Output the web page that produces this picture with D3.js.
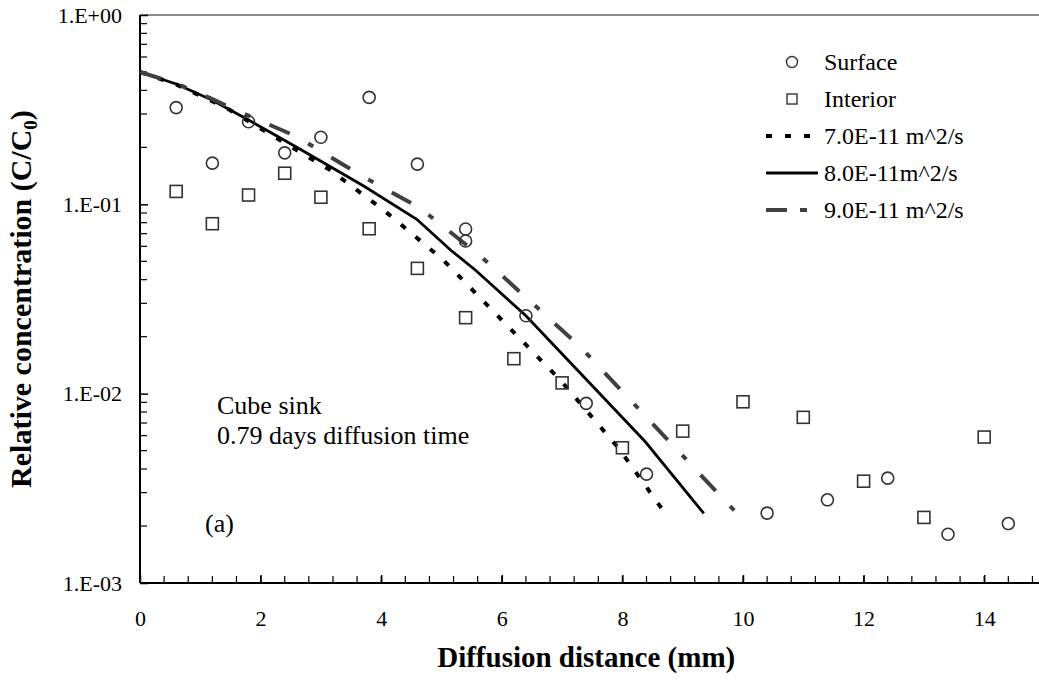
<!DOCTYPE html>
<html>
<head>
<meta charset="utf-8">
<script src="https://cdn.jsdelivr.net/npm/d3@7/dist/d3.min.js"></script>
<style>
body { margin: 0; background: #fff; }
svg { display: block; font-family: "Liberation Serif", "Times New Roman", serif; }
</style>
</head>
<body>
<svg width="1039" height="683"></svg>
<script>
var surfaceX = [0.6, 1.2, 1.8, 2.4, 3.0, 3.8, 4.6, 5.4, 5.4, 6.4, 7.4, 8.4, 10.4, 11.4, 12.4, 13.4, 14.4];
var surfaceY = [0.324, 0.165, 0.273, 0.187, 0.226, 0.367, 0.163, 0.0741, 0.064, 0.0258, 0.00889, 0.00376, 0.00234, 0.00275, 0.00358, 0.00181, 0.00206];

var interiorX = [0.6, 1.2, 1.8, 2.4, 3.0, 3.8, 4.6, 5.4, 6.2, 7.0, 8.0, 9.0, 10.0, 11.0, 12.0, 13.0, 14.0];
var interiorY = [0.117, 0.079, 0.112, 0.146, 0.109, 0.0743, 0.0459, 0.0252, 0.0153, 0.0114, 0.00518, 0.00634, 0.00906, 0.0075, 0.00345, 0.00222, 0.0059];

// model curves
var d7X = [0, 0.6, 1.2, 1.49, 2.27, 3.15, 4.04, 5.03, 6.97, 7.94, 8.71];
var d7Y = [0.5, 0.43, 0.35, 0.315, 0.223, 0.152, 0.0933, 0.0508, 0.0118, 0.00514, 0.00233];

var d8X = [0, 0.6, 1.2, 1.8, 2.6, 3.71, 4.59, 5.15, 5.56, 6.4, 8.38, 9.35];
var d8Y = [0.5, 0.432, 0.355, 0.279, 0.2, 0.125, 0.0834, 0.0574, 0.045, 0.0258, 0.00557, 0.00233];

var d9X = [0, 0.6, 1.2, 1.55, 2.6, 3.65, 4.65, 5.67, 7.3, 9.9];
var d9Y = [0.5, 0.435, 0.36, 0.318, 0.228, 0.143, 0.0953, 0.0525, 0.0177, 0.00233];

var xTicks = [0, 2, 4, 6, 8, 10, 12, 14];
var yTicks = [1, 0.1, 0.01, 0.001];
var yTickLabels = ["1.E+00", "1.E-01", "1.E-02", "1.E-03"];

var legendNames = ["Surface", "Interior", "7.0E-11 m^2/s", "8.0E-11m^2/s", "9.0E-11 m^2/s"];

var padLeft = 140, padTop = 15, padBottom = 583;

var svg = d3.select("svg");

var x = d3.scaleLinear().domain([0, 15]).range([padLeft, padLeft + 15 * 60.3]);
var y = d3.scaleLog().domain([0.001, 1]).range([padBottom, padTop]);

// top border
svg.append("line")
	.attr("x1", padLeft).attr("x2", 1039)
	.attr("y1", padTop).attr("y2", padTop)
	.attr("stroke", "#8c8c8c").attr("stroke-width", 2);

// minor ticks
var xMinor = d3.range(0, 15.01, 0.4);
svg.selectAll("line.xminor")
	.data(xMinor)
	.enter().append("line").classed("xminor", true)
	.attr("x1", d => x(d)).attr("x2", d => x(d))
	.attr("y1", padBottom).attr("y2", padBottom - 7)
	.attr("stroke", "#000").attr("stroke-width", 1.2);

var yMinor = [];
[0.001, 0.01, 0.1].forEach(function(dec){
	for (var k = 2; k <= 9; k++) yMinor.push(dec * k);
});
svg.selectAll("line.yminor")
	.data(yMinor)
	.enter().append("line").classed("yminor", true)
	.attr("x1", padLeft).attr("x2", padLeft + 7)
	.attr("y1", d => y(d)).attr("y2", d => y(d))
	.attr("stroke", "#000").attr("stroke-width", 1.2);

// axes
var xAxis = d3.axisBottom(x).tickValues(xTicks).tickSize(-8).tickPadding(27).tickFormat(d3.format("d"));
var gx = svg.append("g").attr("transform", "translate(0," + padBottom + ")").call(xAxis);
gx.select(".domain").attr("d", "M" + padLeft + ",0H1039").attr("stroke-width", 2);
gx.selectAll(".tick line").attr("stroke-width", 1.5);
gx.selectAll("text").attr("font-size", 22).attr("font-family", "Liberation Serif").attr("fill", "#000");

var yAxis = d3.axisLeft(y).tickValues(yTicks).tickSize(-8).tickPadding(18).tickFormat((d, i) => yTickLabels[i]);
var gy = svg.append("g").attr("transform", "translate(" + padLeft + ",0)").call(yAxis);
gy.select(".domain").attr("d", "M0," + padTop + "V" + padBottom).attr("stroke-width", 2);
gy.selectAll(".tick line").attr("stroke-width", 1.5);
gy.selectAll("text").attr("font-size", 22).attr("font-family", "Liberation Serif").attr("fill", "#000");

// axis titles
svg.append("text")
	.attr("x", x(7.4)).attr("y", 667)
	.attr("text-anchor", "middle")
	.attr("font-size", 29).attr("font-weight", "bold")
	.text("Diffusion distance (mm)");

var yt = svg.append("text")
	.attr("transform", "translate(31," + ((padTop + padBottom) / 2) + ") rotate(-90)")
	.attr("text-anchor", "middle")
	.attr("font-size", 30).attr("font-weight", "bold");
yt.append("tspan").text("Relative concentration (C/C");
yt.append("tspan").attr("font-size", 19).attr("dy", 6).text("0");
yt.append("tspan").attr("dy", -6).text(")");

// curves
var line = d3.line().x(d => x(d[0])).y(d => y(d[1]));
var curves = [
	{xs: d7X, ys: d7Y, color: "#000", width: 4, dash: "6,13", legDash: "6,13"},
	{xs: d8X, ys: d8Y, color: "#000", width: 2.8, dash: null, legDash: null},
	{xs: d9X, ys: d9Y, color: "#404040", width: 4, dash: "22,21,6,21", legDash: "21,13,7,13"}
];
svg.selectAll("path.curve")
	.data(curves)
	.enter().append("path").classed("curve", true)
	.attr("d", c => line(d3.zip(c.xs, c.ys)))
	.attr("fill", "none")
	.attr("stroke", c => c.color)
	.attr("stroke-width", c => c.width)
	.attr("stroke-dasharray", c => c.dash);

// markers
svg.selectAll("circle.surface")
	.data(d3.zip(surfaceX, surfaceY))
	.enter().append("circle").classed("surface", true)
	.attr("cx", d => x(d[0])).attr("cy", d => y(d[1]))
	.attr("r", 6)
	.attr("fill", "none").attr("stroke", "#333").attr("stroke-width", 1.6);

svg.selectAll("rect.interior")
	.data(d3.zip(interiorX, interiorY))
	.enter().append("rect").classed("interior", true)
	.attr("x", d => x(d[0]) - 6).attr("y", d => y(d[1]) - 6)
	.attr("width", 12).attr("height", 12)
	.attr("fill", "none").attr("stroke", "#333").attr("stroke-width", 1.6);

// notes
svg.append("text").attr("x", 217).attr("y", 414).attr("font-size", 26).text("Cube sink");
svg.append("text").attr("x", 217).attr("y", 444).attr("font-size", 26).text("0.79 days diffusion time");
svg.append("text").attr("x", 205).attr("y", 532).attr("font-size", 26).text("(a)");

// legend
var legY = [62, 99, 136, 173, 210];
var leg = svg.append("g");
leg.append("circle").attr("cx", 792).attr("cy", legY[0]).attr("r", 5.5)
	.attr("fill", "none").attr("stroke", "#333").attr("stroke-width", 1.4);
leg.append("rect").attr("x", 787).attr("y", legY[1] - 5).attr("width", 10).attr("height", 10)
	.attr("fill", "none").attr("stroke", "#333").attr("stroke-width", 1.4);
curves.forEach(function(c, i){
	leg.append("line")
		.attr("x1", 766).attr("x2", c.dash ? 810 : 818)
		.attr("y1", legY[i + 2]).attr("y2", legY[i + 2])
		.attr("stroke", c.color).attr("stroke-width", c.width)
		.attr("stroke-dasharray", c.legDash);
});
leg.selectAll("text")
	.data(legendNames)
	.enter().append("text")
	.attr("x", 824).attr("y", (d, i) => legY[i] + 8)
	.attr("font-size", 24)
	.text(d => d);
</script>
</body>
</html>
